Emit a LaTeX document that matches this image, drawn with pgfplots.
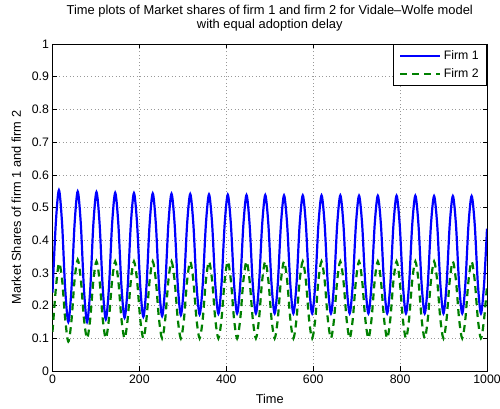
\documentclass[border=0pt]{standalone}
\usepackage{pgfplots}
\pgfplotsset{compat=1.18}
\usepackage{fontspec}
\setmainfont{Liberation Sans}
\usetikzlibrary{calc}
\definecolor{mblue}{rgb}{0,0,1}
\definecolor{mgreen}{rgb}{0,0.5,0}
\begin{document}
\begin{tikzpicture}
\begin{axis}[
  scale only axis, width=434.5pt, height=327pt,
  xmin=0, xmax=1000, ymin=0, ymax=1,
  xtick={0,200,400,600,800,1000},
  ytick={0,0.1,0.2,0.3,0.4,0.5,0.6,0.7,0.8,0.9,1},
  yticklabels={0,0.1,0.2,0.3,0.4,0.5,0.6,0.7,0.8,0.9,1},
  xticklabels={0,200,400,600,800,1000},
  tick label style={font=\fontsize{12.3}{14}\selectfont},
  /pgf/number format/assume math mode=true,
  tick align=inside, tick pos=both, major tick length=4.5pt,
  tick style={black, line width=0.5pt},
  axis line style={black, line width=0.8pt},
  grid=major,
  major grid style={black!40, line width=0.5pt, dash pattern=on 1pt off 2.5pt},
  title={Time plots of Market shares of firm 1 and firm 2 for Vidale\textendash Wolfe model\\with equal adoption delay},
  title style={at={(0.5,1)}, anchor=south, yshift=3pt, align=center, font=\fontsize{12.9}{14}\selectfont},
  xlabel={Time},
  ylabel={Market Shares of firm 1 and firm 2},
  label style={font=\fontsize{12.8}{14}\selectfont},
  xlabel style={yshift=-4pt},
  ylabel style={yshift=4pt},
  legend style={at={(1,1)}, anchor=north east, draw=black, line width=0.6pt,
    font=\fontsize{12.3}{14}\selectfont, inner xsep=5.5pt, inner ysep=3.8pt, row sep=2.5pt,
    nodes={inner sep=2.5pt}},
  legend cell align=left,
  legend image code/.code={\draw[#1] (0pt,0pt) -- (40pt,0pt);},
]
\addplot[mblue, line width=2.2pt, smooth] coordinates {
(0,0.240)(7.6,0.452)(14.8,0.553)(22.0,0.452)(29.2,0.251)
(36.4,0.150)(43.6,0.250)(50.8,0.449)(58.0,0.549)(65.2,0.449)(72.4,0.250)
(79.6,0.150)(86.8,0.249)(94.0,0.448)(101.2,0.547)(108.4,0.450)(115.6,0.255)
(122.7,0.158)(129.9,0.255)(137.1,0.448)(144.3,0.545)(151.5,0.450)(158.7,0.259)
(165.9,0.163)(173.1,0.258)(180.3,0.449)(187.5,0.544)(194.7,0.450)(201.9,0.261)
(209.1,0.166)(216.3,0.260)(223.5,0.449)(230.7,0.543)(237.9,0.449)(245.1,0.262)
(252.3,0.168)(259.5,0.262)(266.7,0.449)(273.9,0.542)(281.1,0.449)(288.3,0.264)
(295.4,0.171)(302.6,0.264)(309.8,0.449)(317.0,0.541)(324.2,0.449)(331.4,0.265)
(338.6,0.173)(345.8,0.265)(353.0,0.448)(360.2,0.540)(367.4,0.449)(374.6,0.266)
(381.8,0.175)(389.0,0.266)(396.2,0.448)(403.4,0.539)(410.6,0.448)(417.8,0.267)
(424.9,0.176)(432.1,0.266)(439.3,0.447)(446.5,0.538)(453.7,0.447)(460.9,0.266)
(468.1,0.176)(475.3,0.266)(482.5,0.447)(489.7,0.538)(496.9,0.447)(504.1,0.266)
(511.3,0.176)(518.5,0.266)(525.7,0.447)(532.9,0.537)(540.1,0.447)(547.3,0.266)
(554.4,0.176)(561.6,0.266)(568.8,0.447)(576.0,0.537)(583.2,0.447)(590.4,0.266)
(597.6,0.176)(604.8,0.266)(612.0,0.447)(619.2,0.537)(626.4,0.447)(633.6,0.266)
(640.8,0.176)(648.0,0.266)(655.2,0.447)(662.4,0.537)(669.6,0.447)(676.8,0.266)
(683.9,0.176)(691.1,0.266)(698.3,0.447)(705.5,0.536)(712.7,0.447)(719.9,0.266)
(727.1,0.176)(734.3,0.266)(741.5,0.447)(748.7,0.536)(755.9,0.447)(763.1,0.266)
(770.3,0.176)(777.5,0.266)(784.7,0.447)(791.9,0.536)(799.1,0.447)(806.3,0.266)
(813.5,0.176)(820.7,0.266)(827.9,0.447)(835.1,0.536)(842.3,0.447)(849.5,0.266)
(856.6,0.176)(863.8,0.266)(871.0,0.447)(878.2,0.535)(885.4,0.447)(892.6,0.266)
(899.8,0.176)(907.0,0.266)(914.2,0.447)(921.4,0.535)(928.6,0.447)(935.8,0.266)
(943.0,0.176)(950.2,0.266)(957.4,0.447)(964.6,0.535)(971.8,0.447)(979.0,0.266)
(986.1,0.176)(993.3,0.266)(1000,0.435)
};
\addlegendentry{Firm 1}
\addplot[mgreen, line width=2.2pt, dash pattern=on 7pt off 5pt, smooth] coordinates {
(0,0.120)(7.6,0.250)(14.8,0.330)(22.0,0.280)(29.2,0.160)
(36.4,0.090)(43.6,0.153)(50.8,0.278)(58.0,0.340)(65.2,0.280)(72.4,0.160)
(79.6,0.100)(86.8,0.159)(94.0,0.276)(101.2,0.335)(108.4,0.276)(115.6,0.159)
(122.7,0.100)(129.9,0.159)(137.1,0.276)(144.3,0.335)(151.5,0.276)(158.7,0.159)
(165.9,0.100)(173.1,0.159)(180.3,0.276)(187.5,0.335)(194.7,0.276)(201.9,0.159)
(209.1,0.100)(216.3,0.159)(223.5,0.276)(230.7,0.335)(237.9,0.276)(245.1,0.159)
(252.3,0.100)(259.5,0.159)(266.7,0.276)(273.9,0.335)(281.1,0.276)(288.3,0.159)
(295.4,0.100)(302.6,0.159)(309.8,0.276)(317.0,0.335)(324.2,0.276)(331.4,0.159)
(338.6,0.100)(345.8,0.159)(353.0,0.276)(360.2,0.335)(367.4,0.276)(374.6,0.159)
(381.8,0.100)(389.0,0.159)(396.2,0.276)(403.4,0.335)(410.6,0.276)(417.8,0.159)
(424.9,0.100)(432.1,0.159)(439.3,0.276)(446.5,0.335)(453.7,0.276)(460.9,0.159)
(468.1,0.100)(475.3,0.159)(482.5,0.276)(489.7,0.335)(496.9,0.276)(504.1,0.159)
(511.3,0.100)(518.5,0.159)(525.7,0.276)(532.9,0.335)(540.1,0.276)(547.3,0.159)
(554.4,0.100)(561.6,0.159)(568.8,0.276)(576.0,0.335)(583.2,0.276)(590.4,0.159)
(597.6,0.100)(604.8,0.159)(612.0,0.276)(619.2,0.335)(626.4,0.276)(633.6,0.159)
(640.8,0.100)(648.0,0.159)(655.2,0.276)(662.4,0.335)(669.6,0.276)(676.8,0.159)
(683.9,0.100)(691.1,0.159)(698.3,0.276)(705.5,0.335)(712.7,0.276)(719.9,0.159)
(727.1,0.100)(734.3,0.159)(741.5,0.276)(748.7,0.335)(755.9,0.276)(763.1,0.159)
(770.3,0.100)(777.5,0.159)(784.7,0.276)(791.9,0.335)(799.1,0.276)(806.3,0.159)
(813.5,0.100)(820.7,0.159)(827.9,0.276)(835.1,0.335)(842.3,0.276)(849.5,0.159)
(856.6,0.100)(863.8,0.159)(871.0,0.276)(878.2,0.335)(885.4,0.276)(892.6,0.159)
(899.8,0.100)(907.0,0.159)(914.2,0.276)(921.4,0.335)(928.6,0.276)(935.8,0.159)
(943.0,0.100)(950.2,0.159)(957.4,0.276)(964.6,0.335)(971.8,0.276)(979.0,0.159)
(986.1,0.100)(993.3,0.159)(1000,0.260)
};
\addlegendentry{Firm 2}
\end{axis}
\pgfresetboundingbox
\path ($(current axis.south west)+(-52.5pt,-38pt)$) rectangle ($(current axis.north east)+(13pt,44pt)$);
\end{tikzpicture}
\end{document}
